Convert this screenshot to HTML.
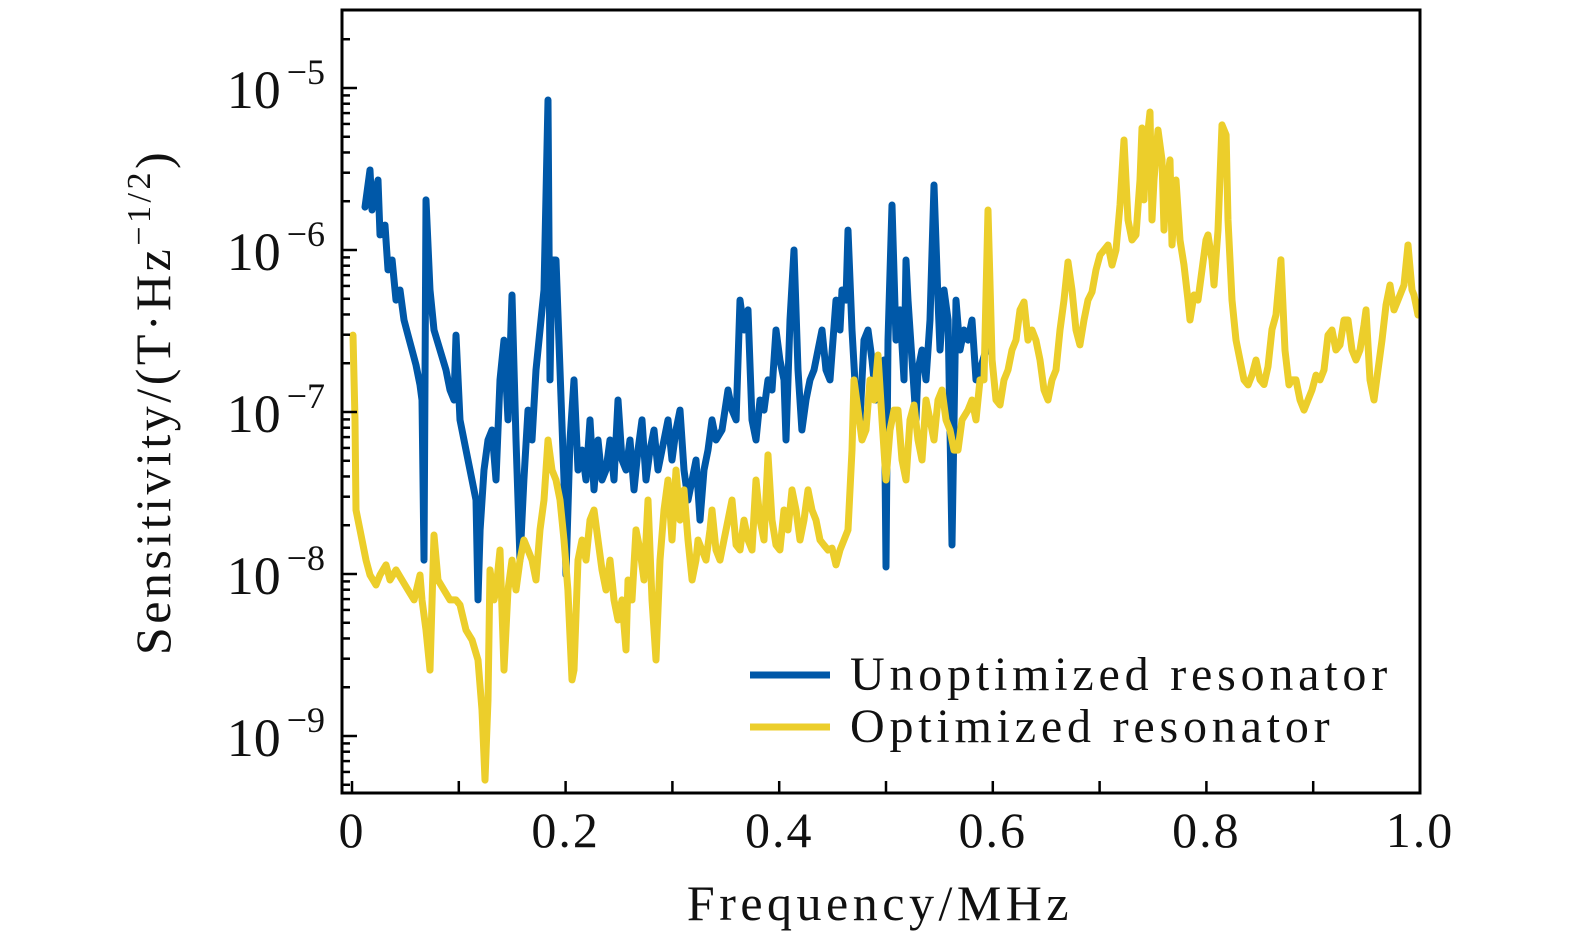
<!DOCTYPE html>
<html><head><meta charset="utf-8">
<style>
html,body{margin:0;padding:0;background:#fff;overflow:hidden;width:1575px;height:945px;}
svg{display:block;}
text{font-family:"Liberation Serif","DejaVu Serif",serif;fill:#111;}
</style></head>
<body>
<svg id="chart" width="1575" height="945" viewBox="0 0 1575 945" xmlns="http://www.w3.org/2000/svg">
<g id="plot"></g>
<g id="axes"></g>
<text x="880" y="920" font-size="50" letter-spacing="4.5" text-anchor="middle">Frequency/MHz</text>
<text transform="translate(170,402) rotate(-90)" font-size="50" letter-spacing="3.5" text-anchor="middle">Sensitivity/(T·Hz<tspan font-size="34" dy="-20">−1/2</tspan><tspan dy="20">)</tspan></text>
<g>
<line x1="750" y1="675" x2="830" y2="675" stroke="#0058A8" stroke-width="7"/>
<text x="850" y="690" font-size="48" letter-spacing="4.8">Unoptimized resonator</text>
<line x1="750" y1="727" x2="830" y2="727" stroke="#ECCE2B" stroke-width="7"/>
<text x="850" y="742" font-size="48" letter-spacing="4.8">Optimized resonator</text>
</g>
</svg>
<script>
const xTicks=[0,0.2,0.4,0.6,0.8,1.0];
const xTickLabels=["0","0.2","0.4","0.6","0.8","1.0"];
const yDecades=[-5,-6,-7,-8,-9];
const blueFreq=[0.0122,0.0169,0.0187,0.0243,0.0262,0.0309,0.0337,0.0375,0.0412,0.0449,0.0487,0.0524,0.0562,0.0599,0.0637,0.0655,0.0674,0.0693,0.0730,0.0768,0.0824,0.0880,0.0918,0.0955,0.0974,0.1011,0.1067,0.1105,0.1161,0.1180,0.1199,0.1236,0.1273,0.1311,0.1348,0.1386,0.1423,0.1461,0.1498,0.1536,0.1573,0.1610,0.1648,0.1685,0.1723,0.1760,0.1798,0.1835,0.1854,0.1873,0.1910,0.1948,0.1985,0.2004,0.2041,0.2079,0.2116,0.2154,0.2191,0.2228,0.2266,0.2303,0.2341,0.2378,0.2416,0.2453,0.2491,0.2528,0.2566,0.2603,0.2640,0.2678,0.2715,0.2753,0.2790,0.2828,0.2865,0.2921,0.2959,0.2996,0.3034,0.3071,0.3109,0.3146,0.3184,0.3221,0.3258,0.3296,0.3333,0.3371,0.3408,0.3464,0.3521,0.3558,0.3596,0.3633,0.3670,0.3708,0.3745,0.3783,0.3820,0.3858,0.3895,0.3933,0.3970,0.4007,0.4045,0.4064,0.4101,0.4139,0.4176,0.4213,0.4251,0.4288,0.4326,0.4363,0.4401,0.4438,0.4476,0.4532,0.4569,0.4588,0.4625,0.4644,0.4682,0.4719,0.4757,0.4794,0.4831,0.4869,0.4906,0.4944,0.4981,0.5000,0.5019,0.5056,0.5094,0.5131,0.5169,0.5187,0.5206,0.5243,0.5281,0.5300,0.5337,0.5375,0.5412,0.5449,0.5487,0.5506,0.5543,0.5581,0.5618,0.5655,0.5693,0.5730,0.5768,0.5805,0.5843,0.5880,0.5936,0.5974];
const blueExp=[-5.735,-5.506,-5.753,-5.568,-5.907,-5.846,-6.123,-6.062,-6.309,-6.247,-6.432,-6.525,-6.617,-6.710,-6.833,-6.926,-7.914,-5.691,-6.247,-6.494,-6.617,-6.741,-6.864,-6.926,-6.525,-7.049,-7.235,-7.358,-7.543,-8.160,-7.728,-7.358,-7.173,-7.111,-7.420,-6.802,-6.556,-7.049,-6.278,-7.173,-7.914,-7.420,-6.988,-7.173,-6.741,-6.494,-6.247,-5.074,-6.802,-6.062,-6.062,-6.741,-7.420,-8.006,-7.173,-6.802,-7.358,-7.235,-7.420,-7.049,-7.481,-7.173,-7.420,-7.358,-7.173,-7.420,-6.926,-7.296,-7.358,-7.173,-7.481,-7.235,-7.049,-7.420,-7.235,-7.111,-7.358,-7.173,-7.049,-7.296,-7.111,-6.988,-7.358,-7.543,-7.420,-7.296,-7.667,-7.358,-7.235,-7.049,-7.173,-7.111,-6.864,-6.988,-7.049,-6.309,-6.494,-6.370,-7.049,-7.173,-6.926,-6.988,-6.802,-6.864,-6.494,-6.679,-6.802,-7.173,-6.432,-6.000,-6.741,-7.111,-6.926,-6.802,-6.741,-6.617,-6.494,-6.741,-6.802,-6.309,-6.494,-6.247,-6.309,-5.877,-6.494,-6.926,-7.049,-6.556,-6.494,-6.679,-6.926,-6.802,-6.679,-7.957,-6.556,-5.722,-6.556,-6.370,-6.802,-6.062,-6.309,-6.679,-7.049,-6.741,-6.617,-6.802,-6.432,-5.599,-6.309,-6.617,-6.247,-6.432,-7.821,-6.309,-6.617,-6.494,-6.556,-6.432,-6.802,-6.741,-6.617,-6.494];
const yellowFreq=[0.0009,0.0028,0.0037,0.0075,0.0131,0.0169,0.0225,0.0262,0.0318,0.0356,0.0412,0.0468,0.0524,0.0581,0.0637,0.0655,0.0693,0.0730,0.0768,0.0805,0.0861,0.0918,0.0974,0.1011,0.1067,0.1124,0.1180,0.1217,0.1245,0.1273,0.1292,0.1330,0.1348,0.1386,0.1423,0.1461,0.1498,0.1536,0.1573,0.1610,0.1648,0.1685,0.1723,0.1760,0.1798,0.1835,0.1873,0.1910,0.1948,0.1985,0.2022,0.2060,0.2079,0.2116,0.2154,0.2191,0.2228,0.2266,0.2303,0.2341,0.2378,0.2416,0.2453,0.2491,0.2528,0.2566,0.2584,0.2622,0.2659,0.2697,0.2734,0.2772,0.2809,0.2846,0.2884,0.2921,0.2959,0.2996,0.3034,0.3071,0.3109,0.3146,0.3184,0.3221,0.3240,0.3277,0.3315,0.3352,0.3371,0.3408,0.3446,0.3483,0.3521,0.3558,0.3596,0.3633,0.3670,0.3708,0.3745,0.3783,0.3820,0.3858,0.3895,0.3933,0.3970,0.4007,0.4045,0.4082,0.4120,0.4157,0.4195,0.4232,0.4270,0.4307,0.4345,0.4382,0.4419,0.4457,0.4494,0.4532,0.4569,0.4607,0.4644,0.4682,0.4700,0.4738,0.4775,0.4813,0.4850,0.4888,0.4925,0.4963,0.5000,0.5037,0.5075,0.5112,0.5150,0.5187,0.5225,0.5262,0.5300,0.5337,0.5375,0.5412,0.5449,0.5487,0.5524,0.5562,0.5599,0.5637,0.5674,0.5712,0.5768,0.5805,0.5843,0.5880,0.5918,0.5955,0.5993,0.6030,0.6067,0.6105,0.6142,0.6180,0.6217,0.6255,0.6292,0.6330,0.6367,0.6404,0.6442,0.6479,0.6517,0.6554,0.6592,0.6629,0.6667,0.6704,0.6742,0.6779,0.6816,0.6854,0.6891,0.6929,0.6966,0.7004,0.7041,0.7079,0.7116,0.7154,0.7191,0.7228,0.7266,0.7303,0.7341,0.7378,0.7397,0.7416,0.7434,0.7472,0.7491,0.7509,0.7547,0.7584,0.7603,0.7622,0.7659,0.7678,0.7715,0.7753,0.7790,0.7828,0.7846,0.7884,0.7921,0.7959,0.7996,0.8015,0.8052,0.8071,0.8109,0.8146,0.8184,0.8202,0.8240,0.8277,0.8315,0.8352,0.8390,0.8427,0.8464,0.8502,0.8539,0.8577,0.8614,0.8652,0.8698,0.8736,0.8773,0.8801,0.8839,0.8876,0.8914,0.8951,0.8989,0.9026,0.9064,0.9101,0.9139,0.9176,0.9213,0.9251,0.9288,0.9326,0.9363,0.9401,0.9438,0.9476,0.9494,0.9532,0.9569,0.9607,0.9644,0.9682,0.9719,0.9757,0.9794,0.9850,0.9888,0.9925,0.9944,0.9981,1.0000];
const yellowExp=[-6.525,-7.049,-7.605,-7.728,-7.914,-8.006,-8.068,-8.006,-7.944,-8.037,-7.975,-8.037,-8.099,-8.160,-8.006,-8.160,-8.346,-8.593,-7.759,-8.037,-8.099,-8.160,-8.160,-8.191,-8.346,-8.407,-8.531,-8.840,-9.272,-8.778,-7.975,-8.160,-8.099,-7.852,-8.593,-8.099,-7.914,-8.099,-7.914,-7.790,-7.852,-7.914,-8.037,-7.728,-7.543,-7.173,-7.358,-7.420,-7.543,-7.790,-8.099,-8.654,-8.593,-7.914,-7.790,-7.914,-7.667,-7.605,-7.790,-7.975,-8.099,-7.914,-8.160,-8.284,-8.160,-8.469,-8.037,-8.160,-7.728,-7.852,-8.037,-7.543,-8.160,-8.531,-7.914,-7.605,-7.420,-7.790,-7.358,-7.667,-7.481,-7.790,-8.037,-7.914,-7.790,-7.852,-7.914,-7.728,-7.605,-7.852,-7.914,-7.790,-7.667,-7.543,-7.821,-7.852,-7.667,-7.790,-7.852,-7.420,-7.667,-7.790,-7.265,-7.667,-7.821,-7.852,-7.605,-7.728,-7.481,-7.605,-7.790,-7.667,-7.481,-7.605,-7.667,-7.790,-7.821,-7.852,-7.840,-7.944,-7.852,-7.790,-7.728,-7.235,-6.802,-6.988,-7.173,-7.111,-6.802,-6.926,-6.648,-7.049,-7.420,-7.111,-6.988,-6.988,-7.296,-7.420,-7.049,-6.957,-7.173,-7.296,-6.926,-7.049,-7.173,-6.926,-6.864,-7.049,-7.111,-7.235,-7.235,-7.049,-6.988,-6.926,-7.049,-6.802,-6.802,-5.753,-6.679,-6.926,-6.957,-6.802,-6.741,-6.617,-6.556,-6.370,-6.321,-6.556,-6.494,-6.556,-6.679,-6.864,-6.926,-6.802,-6.741,-6.494,-6.309,-6.074,-6.247,-6.494,-6.586,-6.432,-6.309,-6.259,-6.123,-6.031,-6.000,-5.969,-6.093,-6.000,-5.722,-5.321,-5.815,-5.938,-5.907,-5.568,-5.247,-5.691,-5.383,-5.148,-5.815,-5.568,-5.259,-5.444,-5.877,-5.630,-5.444,-5.969,-5.568,-5.938,-6.093,-6.309,-6.432,-6.278,-6.309,-6.123,-5.938,-5.907,-6.062,-6.216,-5.877,-5.228,-5.290,-5.815,-6.309,-6.556,-6.679,-6.802,-6.833,-6.772,-6.679,-6.800,-6.830,-6.720,-6.490,-6.400,-6.060,-6.620,-6.833,-6.802,-6.802,-6.926,-6.988,-6.926,-6.864,-6.772,-6.802,-6.741,-6.525,-6.494,-6.617,-6.586,-6.432,-6.432,-6.617,-6.679,-6.617,-6.463,-6.370,-6.802,-6.926,-6.741,-6.556,-6.340,-6.216,-6.370,-6.309,-6.216,-5.969,-6.247,-6.278,-6.401];

const NS='http://www.w3.org/2000/svg';
const L=342,R=1420,T=10,B=793;
const X0=352,X1=1420;
function xs(f){return X0+(X1-X0)*f;}
const Y5=88,DEC=162;
function ys(e){return Y5+(-5-e)*DEC;}
function mk(tag,attrs,parent){const el=document.createElementNS(NS,tag);for(const k in attrs)el.setAttribute(k,attrs[k]);parent.appendChild(el);return el;}
const plot=document.getElementById('plot'),axes=document.getElementById('axes');

function series(fr,ex,color,name){
  let d='';for(let i=0;i<fr.length;i++){d+=(i?'L':'M')+xs(fr[i]).toFixed(1)+','+ys(ex[i]).toFixed(1);}
  const p=mk('path',{d:d,fill:'none',stroke:color,'stroke-width':7,'stroke-linejoin':'round','stroke-linecap':'round'},plot);
  
  
}
series(blueFreq,blueExp,'#0058A8','unoptimized-series-line');
series(yellowFreq,yellowExp,'#ECCE2B','optimized-series-line');

const frame=mk('rect',{x:L,y:T,width:R-L,height:B-T,fill:'none',stroke:'#000','stroke-width':3},axes);



for(let i=0;i<=10;i++){
  const x=xs(i/10);
  const t=mk('line',{x1:x,y1:B,x2:x,y2:B-12,stroke:'#000','stroke-width':2.5},axes);
  
  
}
xTicks.forEach((v,i)=>{
  const t=mk('text',{x:xs(v),y:847,'font-size':50,'letter-spacing':2,'text-anchor':'middle'},axes);
  t.textContent=xTickLabels[i];
  
  
});
for(let d=-4;d>=-10;d--){
  for(let m=1;m<=9;m++){
    const e=d+Math.log10(m)-1;
    const y=ys(e);
    if(y<T+1||y>B-1)continue;
    const len=m===1?15:8;
    const t=mk('line',{x1:L,y1:y,x2:L+len,y2:y,stroke:'#000','stroke-width':2.5},axes);
    
    
  }
}
yDecades.forEach(e=>{
  const t=mk('text',{x:325,y:ys(e)+20,'font-size':54,'text-anchor':'end'},axes);
  
  
  const a=document.createElementNS(NS,'tspan');a.textContent='10';t.appendChild(a);
  const b=document.createElementNS(NS,'tspan');b.setAttribute('font-size','36');b.setAttribute('dy','-24');b.setAttribute('dx','6');b.textContent='−'+(-e);t.appendChild(b);
});
</script>
</body></html>
